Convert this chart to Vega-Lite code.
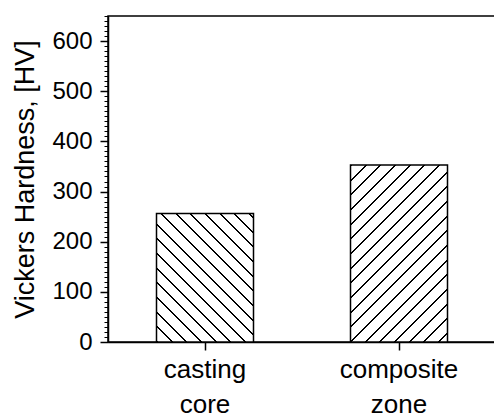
{
  "$schema": "https://vega.github.io/schema/vega-lite/v6.json",
  "width": 388,
  "height": 326,
  "autosize": {"type": "none"},
  "padding": {"left": 108, "top": 16, "right": 0, "bottom": 72},
  "background": "white",
  "config": {
    "view": {"stroke": "black", "strokeWidth": 1.5},
    "axis": {
      "domainColor": "black", "domainWidth": 1.5, "tickColor": "black", "tickWidth": 1.5,
      "labelColor": "black", "titleColor": "black", "grid": false,
      "labelFont": "Liberation Sans", "titleFont": "Liberation Sans"
    }
  },
  "data": {"values": [
    {"zone": "casting core", "hv": 256},
    {"zone": "composite zone", "hv": 353}
  ]},
  "encoding": {
    "x": {
      "field": "zone", "type": "nominal", "sort": null,
      "scale": {"paddingInner": 0.5, "paddingOuter": 0.25},
      "axis": {
        "title": null, "labelAngle": 0, "labelFontSize": 26,
        "labelExpr": "split(datum.label, ' ')", "labelLineHeight": 35,
        "tickSize": 8, "labelPadding": 6
      }
    },
    "y": {
      "field": "hv", "type": "quantitative",
      "scale": {"domain": [0, 650], "nice": false, "zero": true},
      "axis": {
        "title": "Vickers Hardness, [HV]", "titleFontSize": 27, "titleFontWeight": "normal", "titlePadding": 12,
        "values": [0,10,20,30,40,50,60,70,80,90,100,110,120,130,140,150,160,170,180,190,200,210,220,230,240,250,260,270,280,290,300,310,320,330,340,350,360,370,380,390,400,410,420,430,440,450,460,470,480,490,500,510,520,530,540,550,560,570,580,590,600,610,620,630,640,650],
        "tickSize": {"condition": {"test": "datum.value % 100 === 0", "value": 8}, "value": 4},
        "tickWidth": {"condition": {"test": "datum.value % 100 === 0", "value": 1.5}, "value": 1},
        "labelExpr": "datum.value % 100 === 0 ? datum.label : ''",
        "labelOverlap": false, "labelFontSize": 24, "labelPadding": 8
      }
    }
  },
  "layer": [
    {
      "transform": [{"filter": "datum.zone === 'casting core'"}],
      "mark": {
        "type": "bar", "stroke": "black", "strokeWidth": 1.5,
        "fill": {
          "gradient": "linear", "x1": 0, "y1": 1, "x2": 0.8791, "y2": -0.1637,
          "stops": [
            {"offset": 0, "color": "#000"}, {"offset": 0.00813, "color": "#000"}, {"offset": 0.00813, "color": "#fff"}, {"offset": 0.0625, "color": "#fff"},
            {"offset": 0.0625, "color": "#000"}, {"offset": 0.07063, "color": "#000"}, {"offset": 0.07063, "color": "#fff"}, {"offset": 0.125, "color": "#fff"},
            {"offset": 0.125, "color": "#000"}, {"offset": 0.13313, "color": "#000"}, {"offset": 0.13313, "color": "#fff"}, {"offset": 0.1875, "color": "#fff"},
            {"offset": 0.1875, "color": "#000"}, {"offset": 0.19563, "color": "#000"}, {"offset": 0.19563, "color": "#fff"}, {"offset": 0.25, "color": "#fff"},
            {"offset": 0.25, "color": "#000"}, {"offset": 0.25813, "color": "#000"}, {"offset": 0.25813, "color": "#fff"}, {"offset": 0.3125, "color": "#fff"},
            {"offset": 0.3125, "color": "#000"}, {"offset": 0.32063, "color": "#000"}, {"offset": 0.32063, "color": "#fff"}, {"offset": 0.375, "color": "#fff"},
            {"offset": 0.375, "color": "#000"}, {"offset": 0.38313, "color": "#000"}, {"offset": 0.38313, "color": "#fff"}, {"offset": 0.4375, "color": "#fff"},
            {"offset": 0.4375, "color": "#000"}, {"offset": 0.44563, "color": "#000"}, {"offset": 0.44563, "color": "#fff"}, {"offset": 0.5, "color": "#fff"},
            {"offset": 0.5, "color": "#000"}, {"offset": 0.50813, "color": "#000"}, {"offset": 0.50813, "color": "#fff"}, {"offset": 0.5625, "color": "#fff"},
            {"offset": 0.5625, "color": "#000"}, {"offset": 0.57063, "color": "#000"}, {"offset": 0.57063, "color": "#fff"}, {"offset": 0.625, "color": "#fff"},
            {"offset": 0.625, "color": "#000"}, {"offset": 0.63313, "color": "#000"}, {"offset": 0.63313, "color": "#fff"}, {"offset": 0.6875, "color": "#fff"},
            {"offset": 0.6875, "color": "#000"}, {"offset": 0.69563, "color": "#000"}, {"offset": 0.69563, "color": "#fff"}, {"offset": 0.75, "color": "#fff"},
            {"offset": 0.75, "color": "#000"}, {"offset": 0.75813, "color": "#000"}, {"offset": 0.75813, "color": "#fff"}, {"offset": 0.8125, "color": "#fff"},
            {"offset": 0.8125, "color": "#000"}, {"offset": 0.82063, "color": "#000"}, {"offset": 0.82063, "color": "#fff"}, {"offset": 0.875, "color": "#fff"},
            {"offset": 0.875, "color": "#000"}, {"offset": 0.88313, "color": "#000"}, {"offset": 0.88313, "color": "#fff"}, {"offset": 0.9375, "color": "#fff"},
            {"offset": 0.9375, "color": "#000"}, {"offset": 0.94563, "color": "#000"}, {"offset": 0.94563, "color": "#fff"}, {"offset": 1, "color": "#fff"}
          ]
        }
      }
    },
    {
      "transform": [{"filter": "datum.zone === 'composite zone'"}],
      "mark": {
        "type": "bar", "stroke": "black", "strokeWidth": 1.5,
        "fill": {
          "gradient": "linear", "x1": 0, "y1": 0, "x2": 0.6636, "y2": 1.2109,
          "stops": [
            {"offset": 0, "color": "#000"}, {"offset": 0.00684, "color": "#000"}, {"offset": 0.00684, "color": "#fff"}, {"offset": 0.05263, "color": "#fff"},
            {"offset": 0.05263, "color": "#000"}, {"offset": 0.05947, "color": "#000"}, {"offset": 0.05947, "color": "#fff"}, {"offset": 0.10526, "color": "#fff"},
            {"offset": 0.10526, "color": "#000"}, {"offset": 0.11211, "color": "#000"}, {"offset": 0.11211, "color": "#fff"}, {"offset": 0.15789, "color": "#fff"},
            {"offset": 0.15789, "color": "#000"}, {"offset": 0.16474, "color": "#000"}, {"offset": 0.16474, "color": "#fff"}, {"offset": 0.21053, "color": "#fff"},
            {"offset": 0.21053, "color": "#000"}, {"offset": 0.21737, "color": "#000"}, {"offset": 0.21737, "color": "#fff"}, {"offset": 0.26316, "color": "#fff"},
            {"offset": 0.26316, "color": "#000"}, {"offset": 0.27, "color": "#000"}, {"offset": 0.27, "color": "#fff"}, {"offset": 0.31579, "color": "#fff"},
            {"offset": 0.31579, "color": "#000"}, {"offset": 0.32263, "color": "#000"}, {"offset": 0.32263, "color": "#fff"}, {"offset": 0.36842, "color": "#fff"},
            {"offset": 0.36842, "color": "#000"}, {"offset": 0.37526, "color": "#000"}, {"offset": 0.37526, "color": "#fff"}, {"offset": 0.42105, "color": "#fff"},
            {"offset": 0.42105, "color": "#000"}, {"offset": 0.4279, "color": "#000"}, {"offset": 0.4279, "color": "#fff"}, {"offset": 0.47368, "color": "#fff"},
            {"offset": 0.47368, "color": "#000"}, {"offset": 0.48053, "color": "#000"}, {"offset": 0.48053, "color": "#fff"}, {"offset": 0.52632, "color": "#fff"},
            {"offset": 0.52632, "color": "#000"}, {"offset": 0.53316, "color": "#000"}, {"offset": 0.53316, "color": "#fff"}, {"offset": 0.57895, "color": "#fff"},
            {"offset": 0.57895, "color": "#000"}, {"offset": 0.58579, "color": "#000"}, {"offset": 0.58579, "color": "#fff"}, {"offset": 0.63158, "color": "#fff"},
            {"offset": 0.63158, "color": "#000"}, {"offset": 0.63842, "color": "#000"}, {"offset": 0.63842, "color": "#fff"}, {"offset": 0.68421, "color": "#fff"},
            {"offset": 0.68421, "color": "#000"}, {"offset": 0.69105, "color": "#000"}, {"offset": 0.69105, "color": "#fff"}, {"offset": 0.73684, "color": "#fff"},
            {"offset": 0.73684, "color": "#000"}, {"offset": 0.74368, "color": "#000"}, {"offset": 0.74368, "color": "#fff"}, {"offset": 0.78947, "color": "#fff"},
            {"offset": 0.78947, "color": "#000"}, {"offset": 0.79632, "color": "#000"}, {"offset": 0.79632, "color": "#fff"}, {"offset": 0.84211, "color": "#fff"},
            {"offset": 0.84211, "color": "#000"}, {"offset": 0.84895, "color": "#000"}, {"offset": 0.84895, "color": "#fff"}, {"offset": 0.89474, "color": "#fff"},
            {"offset": 0.89474, "color": "#000"}, {"offset": 0.90158, "color": "#000"}, {"offset": 0.90158, "color": "#fff"}, {"offset": 0.94737, "color": "#fff"},
            {"offset": 0.94737, "color": "#000"}, {"offset": 0.95421, "color": "#000"}, {"offset": 0.95421, "color": "#fff"}, {"offset": 1, "color": "#fff"}
          ]
        }
      }
    }
  ]
}
